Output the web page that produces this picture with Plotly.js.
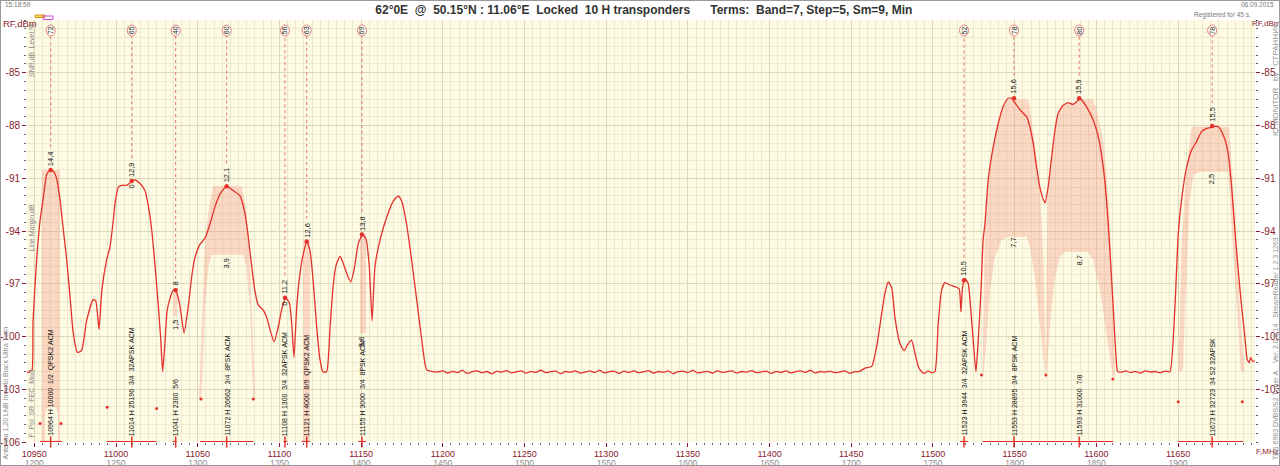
<!DOCTYPE html>
<html><head><meta charset="utf-8">
<script src="https://cdn.plot.ly/plotly-3.0.1.min.js"></script>
<style>
html,body{margin:0;padding:0;background:#fff}
#wrap{position:relative;width:1280px;height:466px}
#chart{width:1280px;height:466px}
#frame{position:absolute;left:0;top:0;width:1280px;height:466px;box-sizing:border-box;border:1px solid #9a9a9a;pointer-events:none}
</style>
</head><body><div id="wrap"><div id="chart"></div><div id="frame"></div></div>
<script>
// ---------------- DATA ----------------
const xTickVals = [10950,11000,11050,11100,11150,11200,11250,11300,11350,11400,11450,11500,11550,11600,11650];
const xTickIF   = [1200,1250,1300,1350,1400,1450,1500,1550,1600,1650,1700,1750,1800,1850,1900];
const yTickVals = [-106,-103,-100,-97,-94,-91,-88,-85];

// spectrum, left part
const specLeftF = [10945.5,10946.5,10947.5,10948.6,10949.2,10951.4,10953.5,10955.5,10957.5,10959.6,10961.6,10963.6,10965.7,10967.7,10969.8,10971.8,10973.8,10976.3,10978.9,10982.0,10986.0,10987.5,10989.6,10991.2,10994.2,10996.3,10998.3,10999.4,11001.4,11003.5,11006.5,11009.5,11011.6,11014.7,11017.7,11019.8,11021.8,11023.9,11025.9,11027.4,11028.5,11029.9,11031.3,11033.5,11035.1,11037.1,11039.2,11041.6,11044.2,11046.3,11048.3,11051.4,11054.5,11057.5,11060.6,11063.6,11067.7,11071.7,11075.9,11078.9,11080.9,11083.0,11085.0,11087.0,11090.1,11092.2,11094.2,11096.7,11099.3,11101.3,11103.8,11106.1,11107.5,11108.9,11110.6,11112.6,11114.6,11116.7,11118.7,11120.8,11122.8,11124.8,11126.5,11128.9,11131.0,11133.0,11135.0,11137.1,11139.1,11141.1,11143.6,11145.7,11148.3,11151.0,11153.0,11155.0,11156.7,11158.5,11161.6,11165.7,11169.7,11172.7,11174.8,11177.8,11180.9,11184.0,11187.1,11190.1,11194.2];
const specLeftDb = [-102.0,-102.05,-101.95,-101.9,-99.1,-95.65,-93.4,-92.1,-90.8,-90.53,-90.6,-91.0,-92.2,-93.9,-95.65,-97.7,-99.8,-100.9,-100.8,-99.1,-97.9,-97.95,-99.6,-97.45,-95.65,-94.9,-93.4,-92.4,-91.5,-91.4,-91.4,-91.2,-91.1,-91.3,-91.7,-92.6,-93.9,-96.0,-98.3,-100.2,-102.0,-100.4,-98.5,-97.7,-97.35,-97.5,-98.3,-99.8,-98.3,-96.6,-95.5,-94.75,-94.4,-93.6,-92.6,-91.9,-91.45,-91.7,-92.0,-93.0,-94.3,-96.0,-97.4,-98.2,-98.5,-98.9,-99.6,-100.3,-99.45,-98.5,-97.8,-98.1,-99.25,-101.2,-98.3,-96.4,-95.3,-94.6,-95.1,-97.0,-99.45,-101.3,-102.0,-102.0,-99.45,-97.0,-95.85,-95.45,-95.85,-96.4,-96.9,-96.2,-94.7,-94.2,-94.45,-96.0,-99.1,-96.0,-94.5,-93.2,-92.3,-92.0,-92.3,-93.6,-95.65,-97.9,-100.2,-101.9,-102.0];

// noise floor, middle
const noiseMidF = [11197,11200,11203,11206,11209,11212,11215,11218,11221,11224,11227,11230,11233,11236,11239,11242,11245,11248,11251,11254,11257,11260,11263,11266,11269,11272,11275,11278,11281,11284,11287,11290,11293,11296,11299,11302,11305,11308,11311,11314,11317,11320,11323,11326,11329,11332,11335,11338,11341,11344,11347,11350,11353,11356,11359,11362,11365,11368,11371,11374,11377,11380,11383,11386,11389,11392,11395,11398,11401,11404,11407,11410,11413,11416,11419,11422,11425,11428,11431,11434,11437,11440,11443,11446,11449,11452,11455];
const noiseMidDb = [-102.02,-101.95,-102.08,-101.98,-102.05,-101.93,-102.10,-102.00,-101.96,-102.06,-101.99,-102.12,-101.97,-102.03,-101.94,-102.07,-102.01,-101.96,-102.09,-101.98,-102.04,-101.92,-102.06,-102.00,-101.97,-102.11,-101.99,-102.03,-101.95,-102.08,-102.02,-101.96,-102.05,-101.93,-102.07,-102.00,-101.98,-102.10,-101.97,-102.04,-101.95,-102.06,-102.01,-101.94,-102.08,-101.99,-102.03,-101.96,-102.11,-102.00,-101.97,-102.05,-101.93,-102.07,-102.02,-101.98,-102.09,-101.95,-102.04,-102.00,-101.96,-102.08,-101.99,-102.03,-101.94,-102.06,-102.01,-101.97,-102.10,-101.98,-102.05,-101.95,-102.07,-102.00,-101.96,-102.04,-101.92,-102.08,-101.99,-102.03,-101.97,-102.06,-102.01,-101.95,-102.09,-102.00,-101.98];

// spectrum, right group
const specRightF = [11458.4,11462.5,11465.5,11468.6,11470.6,11472.6,11474.7,11476.7,11479.8,11482.3,11484.9,11486.9,11489.0,11491.0,11493.1,11495.0,11497.0,11499.0,11501.2,11503.2,11505.3,11507.3,11510.4,11514.5,11516.1,11517.1,11518.1,11519.6,11521.6,11523.0,11524.6,11526.3,11527.7,11529.4,11530.7,11531.8,11533.8,11536.9,11539.9,11543.0,11546.0,11548.1,11550.1,11553.2,11557.3,11559.3,11561.3,11563.4,11565.4,11567.5,11568.7,11570.5,11572.6,11574.6,11576.6,11579.7,11582.7,11585.8,11587.9,11589.9,11591.9,11595.0,11598.1,11601.1,11604.2,11606.2,11608.3,11610.3,11612.0,11613.0];
const specRightDb = [-101.8,-101.7,-100.6,-98.7,-97.55,-96.9,-97.2,-98.9,-100.4,-100.8,-100.4,-100.2,-100.96,-101.7,-102.0,-102.1,-101.95,-102.05,-102.0,-99.25,-97.36,-96.94,-97.07,-97.2,-97.3,-98.6,-97.2,-96.7,-97.0,-98.3,-100.2,-102.0,-100.2,-97.4,-94.5,-93.6,-91.1,-89.2,-87.9,-86.9,-86.45,-86.45,-86.7,-87.1,-87.5,-88.07,-89.0,-90.35,-91.5,-92.2,-92.4,-91.5,-89.8,-88.3,-87.3,-86.85,-86.7,-86.8,-86.65,-86.45,-86.65,-87.1,-87.7,-88.6,-90.35,-92.2,-95.1,-98.3,-101.15,-102.0];

// noise floor, between 11593 and 11673
const noiseRightF  = [11615,11618,11621,11624,11627,11630,11633,11636,11639,11642,11645];
const noiseRightDb = [-102.03,-101.96,-102.05,-101.98,-102.08,-101.95,-102.02,-101.99,-102.06,-101.97,-102.0];

// spectrum, last transponder
const specEndF  = [11648.1,11650.1,11652.2,11655.2,11658.3,11661.4,11664.4,11667.5,11670.5,11673.6,11675.6,11678.7,11680.7,11682.8,11684.8,11686.8,11688.9,11690.9,11692.3,11693.6,11694.4,11695.7,11697.1];
const specEndDb = [-98.3,-94.2,-92.2,-90.4,-89.4,-88.9,-88.35,-88.16,-88.1,-88.03,-88.16,-88.8,-89.6,-91.5,-93.95,-96.2,-98.3,-100.0,-101.3,-101.5,-101.2,-101.4,-101.4];

// transponders
const tpFreq   = [10960.0,11009.6,11036.5,11067.7,11103.4,11116.7,11150.5,11519.0,11549.6,11589.5,11670.9];
const tpPeak   = [-90.53,-91.15,-97.35,-91.45,-97.8,-94.6,-94.2,-96.8,-86.45,-86.45,-88.03];
const tpId     = ['72','65','40','60','56','63','69','52','78','80','78'];
const tpSnr    = ['14,4','12,9','8','12,1','11,2','12,6','13,8','10,5','15,6','15,9','15,5'];
const tpMargin = [null,0,1.5,3.9,0,null,5.6,null,7.7,8.7,2.5];
const tpInfo   = ['10964 H 10000  1/2  QPSK2 ACM','11014 H 25196  3/4  32APSK ACM','11041 H 2300  5/6','11072 H 26662  3/4  8PSK ACM','11108 H 1300  3/4  32APSK ACM','11121 H 4000  8/9  QPSK2 ACM','11155 H 3000  3/4  8PSK ACM','11523 H 3944  3/4  32APSK ACM','11553 H 28895  3/4  8PSK ACM','11593 H 31000  7/8','11673 H 32723  34 S2 32APSK'];
const bandLo   = [10953.5,10994.3,11034.6,11051.4,11102.4,11113.6,11148.3,11516.5,11530.3,11569.5,11650.1];
const bandHi   = [10966.8,11024.8,11037.1,11084.0,11104.8,11118.7,11153.0,11521.6,11569.5,11610.3,11689.8];
const edgeDotF  = [10953.5,10966.3,10994.6,11024.8,11052.0,11084.0,11529.7,11569.1,11610.1,11650.1,11689.3];
const edgeDotDb = [-104.95,-104.95,-104.03,-104.09,-103.56,-103.56,-102.19,-102.19,-102.42,-103.71,-103.71];

// shaded (margin) areas
const shade10964F  = [10954.5,10965.7,10965.7,10964.6,10964.6,10963.2,10960.2,10957.8,10956.5,10956.5,10954.5];
const shade10964Db = [-90.53,-90.53,-106.0,-106.0,-104.47,-104.07,-103.96,-104.07,-104.47,-106.0,-106.0];
const shade11041F  = [11035.0,11037.5,11037.5,11035.0];
const shade11041Db = [-97.35,-97.35,-98.85,-98.85];
const shade11072F  = [11050.8,11051.8,11053.0,11054.5,11057.0,11059.5,11076.9,11079.3,11081.4,11083.0,11084.5,11085.2,11084.0,11083.0,11082.0,11079.9,11077.8,11058.5,11056.4,11054.5,11053.0,11052.1];
const shade11072Db = [-103.61,-101.15,-98.31,-94.51,-92.62,-91.44,-91.44,-92.62,-94.51,-98.31,-101.15,-103.61,-103.61,-101.15,-98.31,-96.03,-95.35,-95.35,-96.03,-98.31,-101.15,-103.61];
const shade11121F  = [11114.6,11118.7,11118.7,11114.6];
const shade11121Db = [-94.57,-94.57,-106.0,-106.0];
const shade11155F  = [11149.3,11153.0,11153.0,11149.3];
const shade11155Db = [-94.2,-94.2,-99.8,-99.8];
const shade11553F  = [11530.3,11531.8,11533.8,11536.8,11539.9,11543.0,11547.1,11558.3,11559.3,11561.3,11563.4,11565.4,11567.1,11568.1,11568.7,11569.1,11567.9,11565.4,11562.4,11559.3,11557.3,11546.0,11542.0,11537.9,11534.9,11532.8,11530.7];
const shade11553Db = [-102.29,-93.56,-91.10,-89.21,-87.88,-86.93,-86.45,-86.55,-87.02,-88.26,-89.78,-91.67,-94.51,-97.36,-100.2,-102.29,-101.53,-99.25,-96.6,-94.9,-94.33,-94.33,-94.51,-95.46,-97.36,-100.2,-102.29];
const shade11593F  = [11569.1,11569.5,11570.1,11571.6,11573.6,11575.6,11578.7,11581.8,11585.8,11589.9,11598.0,11600.1,11604.2,11606.2,11608.3,11609.9,11611.1,11611.5,11610.3,11608.3,11605.2,11602.2,11598.0,11595.0,11580.8,11577.7,11574.7,11572.6,11570.5,11569.5];
const shade11593Db = [-102.29,-95.46,-92.43,-90.72,-89.01,-87.69,-86.93,-86.74,-86.74,-86.51,-86.51,-87.12,-88.83,-90.72,-93.56,-97.36,-101.15,-102.29,-102.29,-101.15,-99.25,-97.36,-95.65,-95.18,-95.18,-95.46,-96.6,-98.31,-100.77,-102.29];
const shade11673F  = [11650.2,11651.1,11652.3,11654.2,11656.0,11658.3,11681.1,11682.3,11683.9,11685.7,11687.5,11689.4,11690.6,11688.5,11686.9,11685.4,11683.6,11682.0,11680.7,11663.4,11659.3,11657.0,11655.5,11654.2,11653.0];
const shade11673Db = [-101.97,-97.93,-94.51,-91.67,-89.85,-88.07,-88.07,-89.39,-92.24,-95.08,-97.93,-100.49,-101.97,-101.97,-99.63,-97.36,-94.51,-92.24,-90.63,-90.63,-90.82,-92.41,-95.25,-98.50,-101.97];

// ---------------- LAYOUT HELPERS ----------------
const W=1280,H=466,L=27,R=1255,T=20,B=442;
const xRange=[10945.5,11697.1], yRange=[-106,-82];
const pxPerDb=(B-T)/(yRange[1]-yRange[0]);
const pX=p=>(p-L)/(R-L), pY=p=>(B-p)/(B-T);
const FONT='Liberation Sans, Arial, sans-serif';
const MAROON='#8a1c2c', RED='#e3312b', GRAYT='#8a8a8a';
const nb=s=>s.replace(/ /g,'\u00a0');

const specF=[].concat(specLeftF,noiseMidF,specRightF,noiseRightF,specEndF);
const specDb=[].concat(specLeftDb,noiseMidDb,specRightDb,noiseRightDb,specEndDb);

const shades=[[shade10964F,shade10964Db],[shade11041F,shade11041Db],[shade11072F,shade11072Db],[shade11121F,shade11121Db],[shade11155F,shade11155Db],[shade11553F,shade11553Db],[shade11593F,shade11593Db],[shade11673F,shade11673Db]];

const traces=[];
shades.forEach(s=>traces.push({type:'scatter',x:s[0],y:s[1],mode:'lines',fill:'toself',fillcolor:'rgba(244,135,118,0.3)',line:{width:0},hoverinfo:'skip'}));
traces.push({type:'scatter',x:specF,y:specDb,mode:'lines',line:{color:RED,width:1.3,shape:'spline',smoothing:0.5},hoverinfo:'skip'});
// band bars
const bx=[],by=[];
bandLo.forEach((lo,i)=>{bx.push(lo,bandHi[i],null);by.push(yRange[0],yRange[0],null);});
traces.push({type:'scatter',x:bx,y:by,mode:'lines',line:{color:RED,width:2.2},cliponaxis:false,hoverinfo:'skip'});
traces.push({type:'scatter',x:tpFreq,y:tpFreq.map(()=>yRange[0]),mode:'markers',marker:{symbol:'line-ns-open',size:8,color:RED,line:{color:RED,width:1.5}},cliponaxis:false,hoverinfo:'skip'});
traces.push({type:'scatter',x:edgeDotF,y:edgeDotDb,mode:'markers',marker:{color:RED,size:3},hoverinfo:'skip'});
traces.push({type:'scatter',x:tpFreq,y:tpPeak,mode:'markers',marker:{color:RED,size:4.5},hoverinfo:'skip'});
traces.push({type:'scatter',x:tpFreq,y:tpPeak,yaxis:'y2',mode:'markers',marker:{opacity:0},hoverinfo:'skip'});
traces.push({type:'scatter',x:tpFreq,y:tpPeak,xaxis:'x2',mode:'markers',marker:{opacity:0},hoverinfo:'skip'});

const shapes=[], ann=[];
const topDb=yRange[1]-(36-T)/pxPerDb;
tpFreq.forEach((f,i)=>{
  const lblLen=tpSnr[i].length*3.9+5;
  const lineBot=tpPeak[i]+(lblLen+2)/pxPerDb;
  shapes.push({type:'line',xref:'x',yref:'y',x0:f,x1:f,y0:lineBot,y1:topDb,line:{color:'#e57373',width:1,dash:'dot'},layer:'above'});
  shapes.push({type:'circle',xref:'x',yref:'paper',xsizemode:'pixel',ysizemode:'pixel',xanchor:f,yanchor:1,x0:-4.5,x1:4.5,y0:-16,y1:-5,fillcolor:'#fffdf2',line:{color:'#e08080',width:1},layer:'above'});
  ann.push({x:f,xref:'x',y:1,yref:'paper',yshift:-10.5,yanchor:'middle',xanchor:'center',text:tpId[i],textangle:-90,showarrow:false,font:{family:FONT,size:7,color:'#222'}});
  ann.push({x:f,xref:'x',y:tpPeak[i],yref:'y',yanchor:'bottom',xanchor:'center',yshift:2,text:tpSnr[i],textangle:-90,showarrow:false,font:{family:FONT,size:7.5,color:'#111'}});
  if(tpMargin[i]!==null){
    ann.push({x:f,xref:'x',y:tpPeak[i]-tpMargin[i],yref:'y',yanchor:'top',xanchor:'center',yshift:-2,text:String(tpMargin[i]).replace('.',','),textangle:-90,showarrow:false,font:{family:FONT,size:7.5,color:'#111'}});
  }
  ann.push({x:f,xref:'x',y:yRange[0],yref:'y',yanchor:'bottom',xanchor:'center',yshift:4,text:nb(tpInfo[i]),textangle:-90,showarrow:false,font:{family:FONT,size:7,color:'#111'}});
});

// decorative texts
function txt(px,py,text,opt){
  return Object.assign({x:pX(px),y:pY(py),xref:'paper',yref:'paper',text:nb(text),showarrow:false,xanchor:'left',yanchor:'middle',font:{family:FONT,size:7,color:GRAYT}},opt||{});
}
ann.push(txt(3,5,'15:18:59',{font:{family:FONT,size:6.5,color:'#777'}}));
ann.push(txt(1276,5,'06.09.2015',{xanchor:'right',font:{family:FONT,size:6.5,color:'#777'}}));
ann.push(txt(1253,15,'Registered for 45 s.',{xanchor:'right',font:{family:FONT,size:6.5,color:'#777'}}));
ann.push(txt(1,24,'RF,dBm',{font:{family:FONT,size:9.5,color:MAROON}}));
ann.push(txt(1250,24,'RF,dBm',{font:{family:FONT,size:8,color:MAROON}}));
ann.push(txt(1254,452,'F,MHz',{font:{family:FONT,size:8,color:MAROON}}));
ann.push(txt(31,22,'Level,%',{xanchor:'center',yanchor:'top',textangle:-90}));
ann.push(txt(31,49,'SNR,dB',{xanchor:'center',yanchor:'top',textangle:-90}));
ann.push(txt(31,203,'Line Margin,dB',{xanchor:'center',yanchor:'top',textangle:-90}));
ann.push(txt(31,440,'F  Pol  SR  FEC  Mod',{xanchor:'center',yanchor:'bottom',textangle:-90}));
ann.push(txt(5,462,'Antenna 1,20 LNB Inverto Black Ultra Twin',{xanchor:'center',yanchor:'bottom',textangle:-90}));
ann.push(txt(1275.5,21,'IQ MONITOR   by   СТРАННИК',{xanchor:'center',yanchor:'top',textangle:-90,font:{family:FONT,size:8,color:'#8f8f8f'}}));
ann.push(txt(1275.5,462,'TBS 6983 DVBS/S2 Tuner A    Ver. 2.0.5.14   StreamReader 1.2.3.1263',{xanchor:'center',yanchor:'bottom',textangle:-90,font:{family:FONT,size:7,color:'#8f8f8f'}}));

shapes.push({type:'rect',xref:'paper',yref:'paper',x0:pX(35),x1:pX(45),y0:pY(17.5),y1:pY(15),fillcolor:'#f4de4a',line:{color:'#e0902a',width:1}});
shapes.push({type:'rect',xref:'paper',yref:'paper',x0:pX(43),x1:pX(53),y0:pY(19.5),y1:pY(16),fillcolor:'rgba(0,0,0,0)',line:{color:'#d848d8',width:1}});

const axFont={family:FONT,size:10,color:MAROON};
const layout={
  width:W,height:H,margin:{l:L,r:W-R,t:T,b:H-B,pad:0},
  paper_bgcolor:'#ffffff',plot_bgcolor:'#fdfbe4',showlegend:false,
  title:{text:nb('62°0E  @  50.15°N : 11.06°E  Locked  10 H transponders      Terms:  Band=7, Step=5, Sm=9, Min'),
         font:{family:FONT,size:12,color:'#333',weight:700},x:0.503,xanchor:'center',xref:'container',y:1-10/H,yanchor:'middle',yref:'container'},
  xaxis:{range:xRange,tickmode:'array',tickvals:xTickVals,ticktext:xTickVals.map(String),
         ticks:'outside',ticklen:4,tickcolor:MAROON,tickfont:{family:FONT,size:9,color:MAROON},ticklabelstandoff:-1,
         showgrid:true,gridcolor:'#dcd8b6',gridwidth:1,zeroline:false,showline:false,fixedrange:true,
         minor:{tickmode:'linear',tick0:10950,dtick:5,ticks:'outside',ticklen:2,tickcolor:'#666',showgrid:true,gridcolor:'#ece9cc',gridwidth:1}},
  xaxis2:{range:xRange,overlaying:'x',side:'bottom',anchor:'y',tickmode:'array',tickvals:xTickVals,ticktext:xTickIF.map(String),
         ticks:'',tickfont:{family:FONT,size:8.5,color:'#8c8c8c'},ticklabelstandoff:14,
         showgrid:false,zeroline:false,showline:false,fixedrange:true},
  yaxis:{range:yRange,tickmode:'array',tickvals:yTickVals,ticktext:yTickVals.map(v=>String(v)),
         ticks:'outside',ticklen:4,tickcolor:MAROON,tickfont:axFont,showgrid:true,gridcolor:'#dcd8b6',gridwidth:1,
         zeroline:false,showline:false,fixedrange:true,
         minor:{tickmode:'linear',tick0:-106,dtick:0.5,ticks:'outside',ticklen:2,tickcolor:'#666',showgrid:true,gridcolor:'#ece9cc',gridwidth:1}},
  yaxis2:{range:yRange,overlaying:'y',side:'right',tickmode:'array',tickvals:yTickVals.slice(1),ticktext:yTickVals.slice(1).map(v=>String(v)),
         ticks:'outside',ticklen:4,tickcolor:MAROON,tickfont:axFont,ticklabelstandoff:-1,showgrid:false,zeroline:false,showline:false,fixedrange:true,
         minor:{tickmode:'linear',tick0:-106,dtick:0.5,ticks:'outside',ticklen:2,tickcolor:'#666'}},
  shapes:shapes,annotations:ann
};
Plotly.newPlot('chart',traces,layout,{staticPlot:true,displayModeBar:false});
</script></body></html>
